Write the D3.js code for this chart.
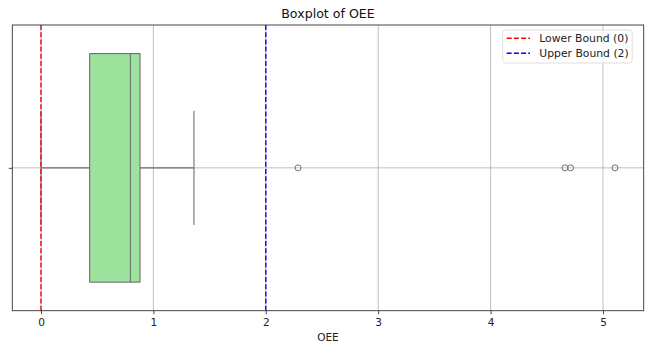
<!DOCTYPE html>
<html>
<head>
<meta charset="utf-8">
<script src="https://cdn.jsdelivr.net/npm/d3@7"></script>
<style>
  body { margin: 0; background: #fff; }
  text { font-family: "DejaVu Sans", sans-serif; }
</style>
</head>
<body>
<figure id="boxplot" style="margin:0"></figure>
<script>
// OEE summary values
const categories = ['OEE'];
const quartiles = [0.433, 0.795, 0.881];   // q1, median, q3
const whiskers = [0.0, 1.361];             // low, high
const outliers = [2.287, 4.662, 4.712, 5.107];
const xTicks = [0, 1, 2, 3, 4, 5];
const bounds = [
  { label: 'Lower Bound (0)', value: 0, color: 'red' },
  { label: 'Upper Bound (2)', value: 2, color: 'blue' }
];

const width = 646, height = 342;
const margin = { left: 12.3, right: 2.3, top: 25, bottom: 31.3 };
const innerW = width - margin.left - margin.right;
const innerH = height - margin.top - margin.bottom;

const svg = d3.select('figure#boxplot')
  .append('svg')
  .attr('width', width)
  .attr('height', height);

const g = svg.append('g')
  .attr('transform', 'translate(' + margin.left + ',' + margin.top + ')');

// x scale with matplotlib style 5% margins
const lo = d3.min([whiskers[0], ...outliers]);
const hi = d3.max([whiskers[1], ...outliers]);
const pad = (hi - lo) * 0.05;
const x = d3.scaleLinear().domain([lo - pad, hi + pad]).range([0, innerW]);
const y = d3.scaleLinear().domain([-0.5, 0.5]).range([innerH, 0]);
const yc = y(0);

// grid
const gridColor = '#b0b0b0';
g.append('g').selectAll('line')
  .data(xTicks)
  .enter()
  .append('line')
  .attr('x1', d => x(d)).attr('x2', d => x(d))
  .attr('y1', 0).attr('y2', innerH)
  .attr('stroke', gridColor).attr('stroke-width', 0.8);
g.append('line')
  .attr('x1', 0).attr('x2', innerW)
  .attr('y1', yc).attr('y2', yc)
  .attr('stroke', gridColor).attr('stroke-width', 0.8);

// box plot
const edge = '#707070';
const boxTop = y(0.4), boxBot = y(-0.4);
const capTop = y(0.2), capBot = y(-0.2);

g.append('line')
  .attr('x1', x(whiskers[0])).attr('x2', x(quartiles[0]))
  .attr('y1', yc).attr('y2', yc)
  .attr('stroke', edge).attr('stroke-width', 1.1);
g.append('line')
  .attr('x1', x(quartiles[2])).attr('x2', x(whiskers[1]))
  .attr('y1', yc).attr('y2', yc)
  .attr('stroke', edge).attr('stroke-width', 1.1);
g.selectAll('.cap')
  .data(whiskers)
  .enter()
  .append('line')
  .attr('class', 'cap')
  .attr('x1', d => x(d)).attr('x2', d => x(d))
  .attr('y1', capTop).attr('y2', capBot)
  .attr('stroke', edge).attr('stroke-width', 1.1);

g.append('rect')
  .attr('x', x(quartiles[0]))
  .attr('y', boxTop)
  .attr('width', x(quartiles[2]) - x(quartiles[0]))
  .attr('height', boxBot - boxTop)
  .attr('fill', '#9de29d')
  .attr('stroke', edge).attr('stroke-width', 1.1);
g.append('line')
  .attr('x1', x(quartiles[1])).attr('x2', x(quartiles[1]))
  .attr('y1', boxTop).attr('y2', boxBot)
  .attr('stroke', edge).attr('stroke-width', 1.1);

g.selectAll('.flier')
  .data(outliers)
  .enter()
  .append('circle')
  .attr('class', 'flier')
  .attr('cx', d => x(d)).attr('cy', yc)
  .attr('r', 3)
  .attr('fill', 'none')
  .attr('stroke', edge).attr('stroke-width', 1);

// bound lines
g.selectAll('.bound')
  .data(bounds)
  .enter()
  .append('line')
  .attr('class', 'bound')
  .attr('x1', d => x(d.value)).attr('x2', d => x(d.value))
  .attr('y1', 0).attr('y2', innerH)
  .attr('stroke', d => d.color)
  .attr('stroke-width', 1.4)
  .attr('stroke-dasharray', '5,2.2');

// frame
g.append('rect')
  .attr('width', innerW).attr('height', innerH)
  .attr('fill', 'none').attr('stroke', '#333').attr('stroke-width', 0.9);

// axes
const xAxis = g.append('g')
  .attr('transform', 'translate(0,' + innerH + ')')
  .call(d3.axisBottom(x).tickValues(xTicks).tickFormat(d3.format('d')).tickSize(3.5).tickPadding(4.5));
xAxis.select('.domain').remove();
xAxis.selectAll('line').attr('stroke', '#333').attr('stroke-width', 0.9);
xAxis.selectAll('text').attr('font-size', 10.5).attr('fill', '#222').style('font-family', 'DejaVu Sans');

const yAxis = g.append('g')
  .call(d3.axisLeft(d3.scalePoint().domain(categories).range([innerH, 0]).padding(0.5))
    .tickSize(3.5).tickFormat(''));
yAxis.select('.domain').remove();
yAxis.selectAll('line').attr('stroke', '#333').attr('stroke-width', 0.9);

// labels
svg.append('text')
  .attr('x', margin.left + innerW / 2).attr('y', 18.4)
  .attr('text-anchor', 'middle').attr('font-size', 12.6).attr('fill', '#111')
  .text('Boxplot of OEE');
svg.append('text')
  .attr('x', margin.left + innerW / 2).attr('y', 341)
  .attr('text-anchor', 'middle').attr('font-size', 10.5).attr('fill', '#222')
  .text('OEE');

// legend
const leg = svg.append('g').attr('transform', 'translate(502.7,30)');
leg.append('rect')
  .attr('width', 129.5).attr('height', 33).attr('rx', 2.5)
  .attr('fill', 'white').attr('fill-opacity', 0.8)
  .attr('stroke', '#d6d6d6').attr('stroke-width', 0.8);
const rows = leg.selectAll('.row')
  .data(bounds)
  .enter()
  .append('g')
  .attr('transform', (d, i) => 'translate(0,' + (8.3 + i * 15) + ')');
rows.append('line')
  .attr('x1', 4).attr('x2', 27.3)
  .attr('stroke', d => d.color).attr('stroke-width', 1.4)
  .attr('stroke-dasharray', '5,2.2');
rows.append('text')
  .attr('x', 36.6).attr('y', 3.8)
  .attr('font-size', 10.8).attr('fill', '#222')
  .text(d => d.label);
</script>
</body>
</html>
